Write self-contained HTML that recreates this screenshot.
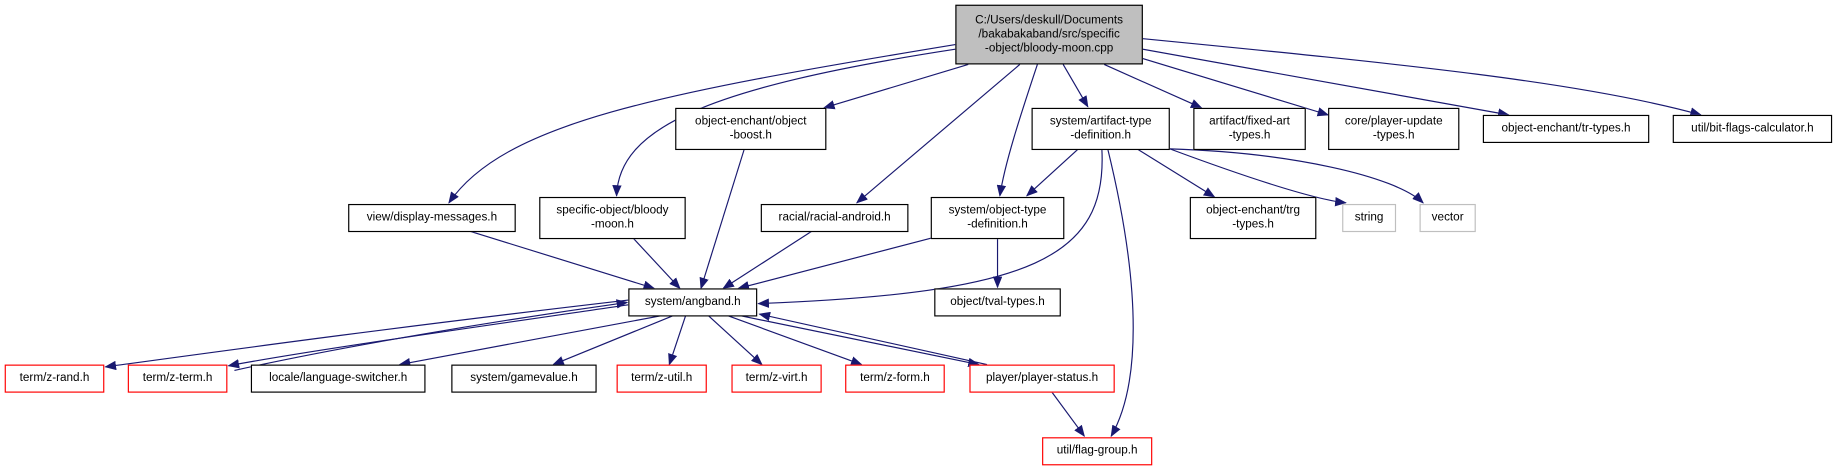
<!DOCTYPE html>
<html><head><meta charset="utf-8"><style>
html,body{margin:0;padding:0;background:#fff;}
#wrap{position:relative;width:1838px;height:469px;overflow:hidden;}
#s{position:absolute;left:0;top:0;width:1568px;height:400px;transform:scale(1.17219);transform-origin:0 0;}
.n{position:absolute;box-sizing:border-box;border:1px solid #000;background:#fff;font-family:"Liberation Sans",sans-serif;font-size:10px;line-height:12px;color:#000;display:flex;align-items:center;justify-content:center;text-align:center;white-space:pre;}
.r{border-color:#ff0000;}
.g{border-color:#bfbfbf;}
svg{position:absolute;left:0;top:0;}
</style></head><body><div id="wrap"><div id="s">
<svg width="1568" height="400" viewBox="0 0 1568 400">
<defs><marker id="a" markerWidth="10" markerHeight="8" refX="9" refY="4" orient="auto" markerUnits="userSpaceOnUse"><path d="M0,0 L10,4 L0,8 z" fill="#191970"/></marker></defs>
<g fill="none" stroke="#191970" stroke-width="1" marker-end="url(#a)">
<path d="M815,38 C560,80 430,105 383,173"/>
<path d="M815,42 C600,75 528,110 526,167"/>
<path d="M826,55 L703,92"/>
<path d="M870,55 L731,173"/>
<path d="M885,55 C870,100 857,140 853,167"/>
<path d="M907,55 L928,91"/>
<path d="M942,55 L1025,92"/>
<path d="M975,50 L1133,98"/>
<path d="M975,42 L1287,98"/>
<path d="M975,33 C1200,55 1350,70 1451,98"/>
<path d="M920,127 L876,167"/>
<path d="M940,127 C945,220 880,250 647,259"/>
<path d="M945,127 C975,250 972,330 948,372"/>
<path d="M970,127 L1036,168"/>
<path d="M998,127 C1060,150 1120,170 1148,173"/>
<path d="M998,127 C1100,130 1190,150 1214,173"/>
<path d="M400,197 L558,246"/>
<path d="M540,203 L580,246"/>
<path d="M635,127 L598,246"/>
<path d="M693,197 L617,246"/>
<path d="M795,203 L630,246"/>
<path d="M851,203 L851,245"/>
<path d="M536,256 C330,280 200,298 90,313"/>
<path d="M536,260 C400,280 270,298 195,312"/>
<path d="M200,316 C290,296 420,274 535,258"/>
<path d="M566,269 L341,311"/>
<path d="M575,269 L472,311"/>
<path d="M585,269 L571,311"/>
<path d="M604,269 L650,311"/>
<path d="M620,269 L735,311"/>
<path d="M630,269 L835,311"/>
<path d="M842,311 L648,268"/>
<path d="M897,334 L925,372"/>
</g>
</svg>
<div class="n" style="left:815px;top:4px;width:160px;height:51px;background:#bfbfbf;">C:/Users/deskull/Documents
/bakabakaband/src/specific
-object/bloody-moon.cpp</div>
<div class="n" style="left:576px;top:92px;width:129px;height:36px;">object-enchant/object
-boost.h</div>
<div class="n" style="left:880px;top:92px;width:118px;height:36px;">system/artifact-type
-definition.h</div>
<div class="n" style="left:1018px;top:92px;width:96px;height:36px;">artifact/fixed-art
-types.h</div>
<div class="n" style="left:1133px;top:92px;width:112px;height:36px;">core/player-update
-types.h</div>
<div class="n" style="left:1265px;top:98px;width:142px;height:24px;">object-enchant/tr-types.h</div>
<div class="n" style="left:1427px;top:98px;width:136px;height:24px;">util/bit-flags-calculator.h</div>
<div class="n" style="left:297px;top:174px;width:143px;height:24px;">view/display-messages.h</div>
<div class="n" style="left:460px;top:168px;width:125px;height:36px;">specific-object/bloody
-moon.h</div>
<div class="n" style="left:649px;top:174px;width:126px;height:24px;">racial/racial-android.h</div>
<div class="n" style="left:794px;top:168px;width:114px;height:36px;">system/object-type
-definition.h</div>
<div class="n" style="left:1015px;top:168px;width:108px;height:36px;">object-enchant/trg
-types.h</div>
<div class="n g" style="left:1145px;top:174px;width:46px;height:24px;">string</div>
<div class="n g" style="left:1211px;top:174px;width:48px;height:24px;">vector</div>
<div class="n" style="left:536px;top:246px;width:110px;height:24px;">system/angband.h</div>
<div class="n" style="left:797px;top:246px;width:108px;height:24px;">object/tval-types.h</div>
<div class="n r" style="left:4px;top:311px;width:85px;height:24px;">term/z-rand.h</div>
<div class="n r" style="left:109px;top:311px;width:85px;height:24px;">term/z-term.h</div>
<div class="n" style="left:214px;top:311px;width:149px;height:24px;">locale/language-switcher.h</div>
<div class="n" style="left:385px;top:311px;width:124px;height:24px;">system/gamevalue.h</div>
<div class="n r" style="left:526px;top:311px;width:77px;height:24px;">term/z-util.h</div>
<div class="n r" style="left:624px;top:311px;width:77px;height:24px;">term/z-virt.h</div>
<div class="n r" style="left:721px;top:311px;width:85px;height:24px;">term/z-form.h</div>
<div class="n r" style="left:827px;top:311px;width:124px;height:24px;">player/player-status.h</div>
<div class="n r" style="left:889px;top:373px;width:94px;height:24px;">util/flag-group.h</div>
</div></div></body></html>
